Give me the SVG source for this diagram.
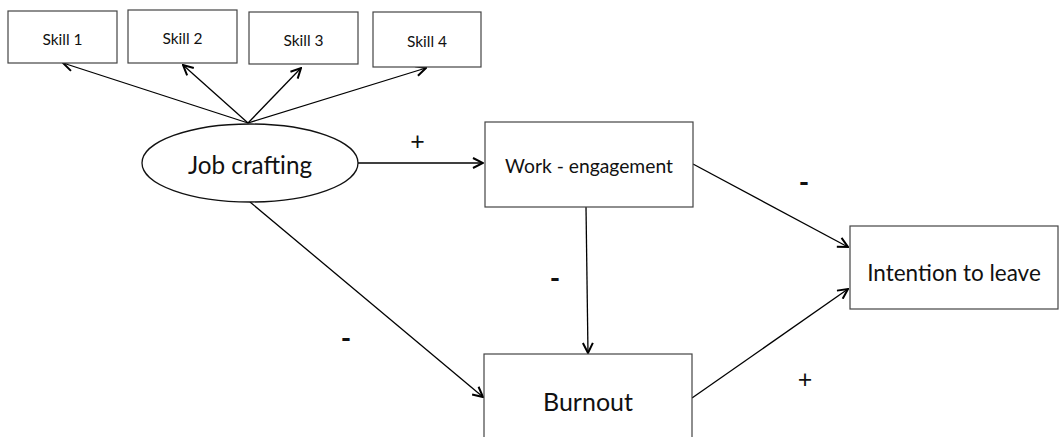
<svg xmlns="http://www.w3.org/2000/svg" width="1059" height="437" viewBox="0 0 1059 437">
<style>
.box{fill:#fff;stroke:#444;stroke-width:1.2}
.t{font-family:Lato,"Liberation Sans",sans-serif;fill:#111;text-anchor:middle;dominant-baseline:central}
.c{fill:none;stroke:#000;stroke-width:1.3;marker-end:url(#ah)}
.s{font-size:15.5px}
.m{font-size:28px;font-weight:bold}
.p{font-size:25px}
</style>
<defs>
<marker id="ah" viewBox="0 0 12 12" refX="11" refY="6" markerWidth="12" markerHeight="12" markerUnits="userSpaceOnUse" orient="auto">
<path d="M1,1 L11,6 L1,11" fill="none" stroke="#000" stroke-width="2"/>
</marker>
</defs>
<rect width="1059" height="437" fill="#fff"/>
<g id="connectors">
<line class="c" x1="248" y1="123" x2="63" y2="63"/>
<line class="c" x1="248" y1="123" x2="183" y2="65"/>
<line class="c" x1="248" y1="123" x2="301" y2="68"/>
<line class="c" x1="248" y1="123" x2="426" y2="68"/>
<line class="c" x1="358" y1="163" x2="483" y2="163"/>
<line class="c" x1="693" y1="164" x2="848" y2="247"/>
<line class="c" x1="586" y1="207" x2="588" y2="353"/>
<line class="c" x1="692" y1="398" x2="848" y2="289"/>
<line class="c" x1="250" y1="202" x2="483" y2="397"/>
</g>
<g id="skill1"><rect class="box" x="8" y="11" width="109" height="52"/><text class="t s" x="62.5" y="39">Skill 1</text></g>
<g id="skill2"><rect class="box" x="128" y="10" width="109" height="53"/><text class="t s" x="182.5" y="38">Skill 2</text></g>
<g id="skill3"><rect class="box" x="249" y="12" width="109" height="52"/><text class="t s" x="303.5" y="40">Skill 3</text></g>
<g id="skill4"><rect class="box" x="373" y="12" width="108" height="55"/><text class="t s" x="427" y="41">Skill 4</text></g>
<g id="jobcrafting"><ellipse fill="#fff" stroke="#111" stroke-width="1.3" cx="250" cy="163" rx="108" ry="39"/><text class="t" x="250" y="164" font-size="24.3">Job crafting</text></g>
<g id="work"><rect class="box" x="485" y="122" width="208" height="85"/><text class="t" x="589" y="165" font-size="19.3">Work - engagement</text></g>
<g id="intention"><rect class="box" x="850" y="226" width="208" height="83"/><text class="t" x="954" y="272" font-size="22.5">Intention to leave</text></g>
<g id="burnout"><rect class="box" x="484" y="354" width="208" height="90"/><text class="t" x="588" y="401" font-size="25">Burnout</text></g>
<g id="labels">
<text class="t p" x="417.5" y="140">+</text>
<text class="t m" x="804" y="181">-</text>
<text class="t m" x="555" y="277">-</text>
<text class="t m" x="346" y="337">-</text>
<text class="t p" x="805" y="378">+</text>
</g>
</svg>
